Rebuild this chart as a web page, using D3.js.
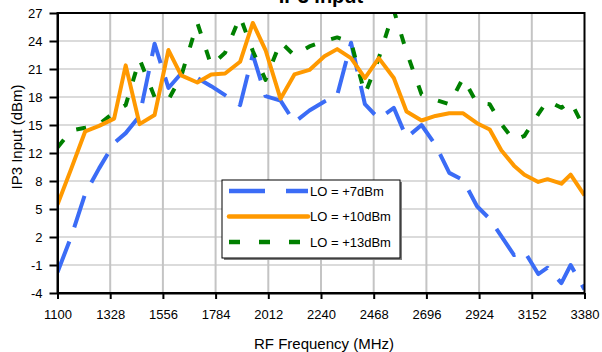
<!DOCTYPE html>
<html><head><meta charset="utf-8">
<script src="https://cdnjs.cloudflare.com/ajax/libs/d3/7.8.5/d3.min.js"></script>
<style>
html,body{margin:0;padding:0;background:#fff;}
svg{display:block;font-family:"Liberation Sans",Arial,sans-serif;}
</style></head>
<body>
<svg id="c" width="602" height="352"></svg>
<script>
const freq = [1100,1160,1220,1280,1345,1395,1455,1520,1580,1635,1705,1765,1825,1890,1945,2000,2065,2125,2190,2255,2310,2370,2430,2490,2555,2610,2675,2735,2795,2855,2915,2970,3020,3075,3120,3180,3220,3280,3320,3380];
const lo7  = [-1.7,2.3,7.0,9.8,12.6,13.7,15.6,23.6,18.7,20.3,19.8,18.9,17.9,16.8,22.4,17.8,17.3,14.9,16.2,17.2,17.9,23.7,16.9,15.3,16.5,13.2,14.6,12.4,9.3,8.5,5.6,4.2,2.3,0.2,0.6,-1.9,-1.2,-2.9,-0.9,-3.6];
const lo10 = [5.8,9.8,13.9,14.5,15.3,21.2,14.7,15.7,22.9,20.1,19.3,20.2,20.3,21.6,25.9,22.9,17.5,20.2,20.7,22.2,23.0,22.0,19.8,22.0,19.8,16.1,15.1,15.6,15.9,15.9,14.8,14.1,11.8,10.1,9.1,8.3,8.6,8.1,9.1,6.8];
const lo13 = [12.1,14.0,14.3,14.7,16.0,16.8,21.9,17.7,17.4,20.0,25.9,21.2,22.6,26.6,22.8,19.6,23.8,22.3,23.3,23.9,24.3,23.8,18.0,22.0,27.3,22.7,18.0,17.4,16.9,19.8,17.0,16.9,14.7,12.9,13.4,15.8,17.3,16.5,17.2,14.2];
const seriesNames = ["LO = +7dBm","LO = +10dBm","LO = +13dBm"];
const xTicks = [1100,1328,1556,1784,2012,2240,2468,2696,2924,3152,3380];
const yTickValues = [-4,-0.9,2.2,5.3,8.4,11.5,14.6,17.7,20.8,23.9,27];
const yTickLabels = ["-4","-1","2","5","8","12","15","18","21","24","27"];
const titleText = "IP3 Input";
const xTitle = "RF Frequency (MHz)";
const yTitle = "IP3 Input (dBm)";

const L = 57.5, R = 584.5, T = 13, B = 293;
const svg = d3.select("#c");
const x = d3.scaleLinear().domain([1100,3380]).range([L,R]);
const y = d3.scaleLinear().domain([-4,27]).range([B,T]);

// gridlines
svg.append("g").selectAll("line").data(yTickValues.slice(1,-1)).join("line")
  .attr("x1",L).attr("x2",R).attr("y1",d=>y(d)).attr("y2",d=>y(d))
  .attr("stroke","#cfcfcf").attr("stroke-width",1.3);
svg.append("g").selectAll("line").data(xTicks.slice(1,-1)).join("line")
  .attr("x1",d=>x(d)).attr("x2",d=>x(d)).attr("y1",T).attr("y2",B)
  .attr("stroke","#c4c4c4").attr("stroke-width",2);

svg.append("clipPath").attr("id","clip").append("rect")
  .attr("x",L).attr("y",T).attr("width",R-L).attr("height",B-T);

const styles = [
  {data:lo7,  color:"#3b6cf6", dash:"33,15", legDash:"36,21"},
  {data:lo10, color:"#ff9900", dash:null, legDash:null},
  {data:lo13, color:"#008000", dash:"10,17", legDash:"11,19"}
];
const line = d3.line().x((d,i)=>x(freq[i])).y(d=>y(d));
const gl = svg.append("g").attr("clip-path","url(#clip)");
[0,2,1].forEach(k=>{
  const s = styles[k];
  gl.append("path").attr("d",line(s.data)).attr("fill","none")
    .attr("stroke",s.color).attr("stroke-width",4)
    .attr("stroke-linejoin","round")
    .attr("stroke-dasharray",s.dash);
});

// frame
svg.append("rect").attr("x",L).attr("y",T).attr("width",R-L).attr("height",B-T)
  .attr("fill","none").attr("stroke","#000").attr("stroke-width",2);

// axes
const yAxis = d3.axisLeft(y).tickValues(yTickValues).tickFormat((d,i)=>yTickLabels[i])
  .tickSize(8).tickSizeOuter(0).tickPadding(7);
const gy = svg.append("g").attr("transform",`translate(${L},0)`).call(yAxis);
const xAxis = d3.axisBottom(x).tickValues(xTicks).tickFormat(d3.format("d"))
  .tickSize(6).tickSizeOuter(0).tickPadding(11);
const gx = svg.append("g").attr("transform",`translate(0,${B})`).call(xAxis);
[gx,gy].forEach(g=>{
  g.select(".domain").attr("stroke","#000").attr("stroke-width",2);
  g.selectAll(".tick line").attr("stroke","#000").attr("stroke-width",2);
  g.selectAll(".tick text").attr("fill","#000").attr("font-size",13)
    .attr("font-family","'Liberation Sans',Arial,sans-serif");
});

// titles
svg.append("text").attr("x",(L+R)/2).attr("y",3).attr("text-anchor","middle")
  .attr("font-size",20).attr("font-weight","bold").text(titleText);
svg.append("text").attr("x",324).attr("y",349).attr("text-anchor","middle")
  .attr("font-size",15).text(xTitle);
svg.append("text").attr("transform","translate(22,137) rotate(-90)")
  .attr("text-anchor","middle").attr("font-size",15).text(yTitle);

// legend
const lg = svg.append("g").attr("transform","translate(222,180)");
lg.append("rect").attr("x",2).attr("y",2).attr("width",178).attr("height",78).attr("fill","#7f7f7f");
lg.append("rect").attr("x",0).attr("y",0).attr("width",178).attr("height",78)
  .attr("fill","#fff").attr("stroke","#000").attr("stroke-width",1);
styles.forEach((s,i)=>{
  const yy = 11 + i*25.5;
  lg.append("line").attr("x1",7).attr("x2",86).attr("y1",yy).attr("y2",yy)
    .attr("stroke",s.color).attr("stroke-width",4.5)
    .attr("stroke-linecap", s.dash ? "butt" : "round")
    .attr("stroke-dasharray",s.legDash);
  lg.append("text").attr("x",88).attr("y",yy+4.5).attr("font-size",13).text(seriesNames[i]);
});
</script>
</body></html>
